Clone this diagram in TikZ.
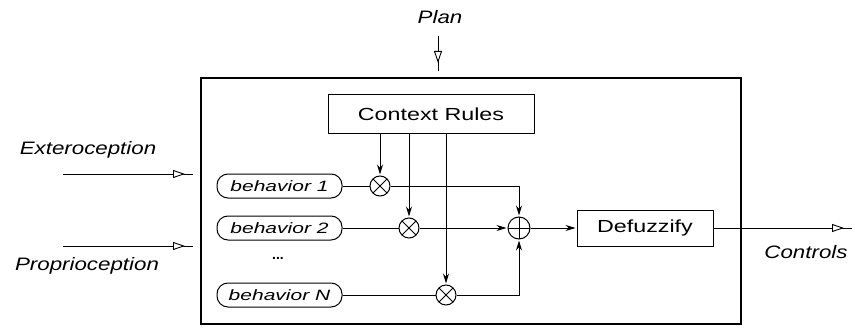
\documentclass[tikz,border=0pt]{standalone}
\usepackage{fontspec}
\setmainfont{Liberation Sans}
\newfontfamily\lblfont{Liberation Sans}[FakeStretch=1.24]
\newfontfamily\boxfont{Liberation Sans}[FakeStretch=1.33]
\newfontfamily\behfont{Liberation Sans}[FakeStretch=1.4]
\usetikzlibrary{arrows.meta,decorations.markings}
\tikzset{
  lbl/.style={inner sep=0pt, font=\lblfont\itshape\fontsize{18}{20}\selectfont},
  rectbox/.style={draw, line width=1pt, inner sep=0pt, font=\boxfont\fontsize{17.5}{20}\selectfont},
  behbox/.style={draw, line width=1pt, rounded corners=11pt, minimum width=125pt, minimum height=24pt, inner sep=0pt, font=\behfont\itshape\fontsize{15}{17}\selectfont},
  mult/.style={draw, circle, line width=1pt, minimum size=20pt, inner sep=0pt,
    path picture={\draw[line width=1pt] (path picture bounding box.north west) -- (path picture bounding box.south east)
      (path picture bounding box.north east) -- (path picture bounding box.south west);}},
  addop/.style={draw, circle, line width=1pt, minimum size=22pt, inner sep=0pt,
    path picture={\draw[line width=1pt] (path picture bounding box.north) -- (path picture bounding box.south)
      (path picture bounding box.east) -- (path picture bounding box.west);}},
  wire/.style={line width=1pt},
  arr/.style={line width=1pt, shorten >=1pt, -{Stealth[length=10pt,width=6pt]}},
  ext/.style={line width=1pt, postaction={decorate},
    decoration={markings, mark=at position -8pt with {\arrow[line width=0.9pt]{Triangle[fill=white,length=12pt,width=8pt]}}}}
}
\begin{document}
\begin{tikzpicture}[x=1pt,y=-1pt]
\useasboundingbox (0,0) rectangle (855,329);
% outer box
\node[draw, line width=1.4pt, minimum width=540pt, minimum height=246pt, inner sep=0pt] (outer) at (471,201) {};
% labels
\node[lbl] (plan) at (440,17) {Plan};
\node[lbl] (extero) at (88,150) {Exteroception};
\node[lbl] (proprio) at (87,266) {Proprioception};
\node[lbl] (controls) at (806,252) {Controls};
% boxes
\node[rectbox, minimum width=206pt, minimum height=38pt] (ctx) at (431,114) {Context Rules};
\node[rectbox, minimum width=136pt, minimum height=36pt] (defuz) at (645,228) {Defuzzify};
\node[behbox] (b1) at (279.5,186) {behavior 1};
\node[behbox] (b2) at (279.5,228) {behavior 2};
\node[behbox] (bN) at (279.5,295) {behavior N};
\node[font=\fontsize{14}{16}\selectfont\bfseries, inner sep=0pt] (dots) at (278,258) {...};
% operators
\node[mult] (m1) at (380,186) {};
\node[mult] (m2) at (409,228) {};
\node[mult] (mN) at (446,295) {};
\node[addop] (sum) at (519,228) {};
% coordinates for free ends
\coordinate (planstart) at (438,36);
\coordinate (planend) at (438,71);
\coordinate (e0) at (63,174);
\coordinate (e1) at (193,174);
\coordinate (p0) at (63,246);
\coordinate (p1) at (193,246);
\coordinate (cend) at (852,228);
% external arrows
\draw[ext] (planstart) -- (planend);
\draw[ext] (e0) -- (e1);
\draw[ext] (p0) -- (p1);
\draw[ext] (defuz) -- (cend);
% internal wiring
\draw[wire] (b1) -- (m1);
\draw[wire] (b2) -- (m2);
\draw[wire] (bN) -- (mN);
\draw[arr] (ctx.south -| m1) -- (m1);
\draw[arr] (ctx.south -| m2) -- (m2);
\draw[arr] (ctx.south -| mN) -- (mN);
\draw[arr] (m1) -| (sum);
\draw[arr] (m2) -- (sum);
\draw[arr] (mN) -| (sum);
\draw[arr] (sum) -- (defuz);
\end{tikzpicture}
\end{document}
